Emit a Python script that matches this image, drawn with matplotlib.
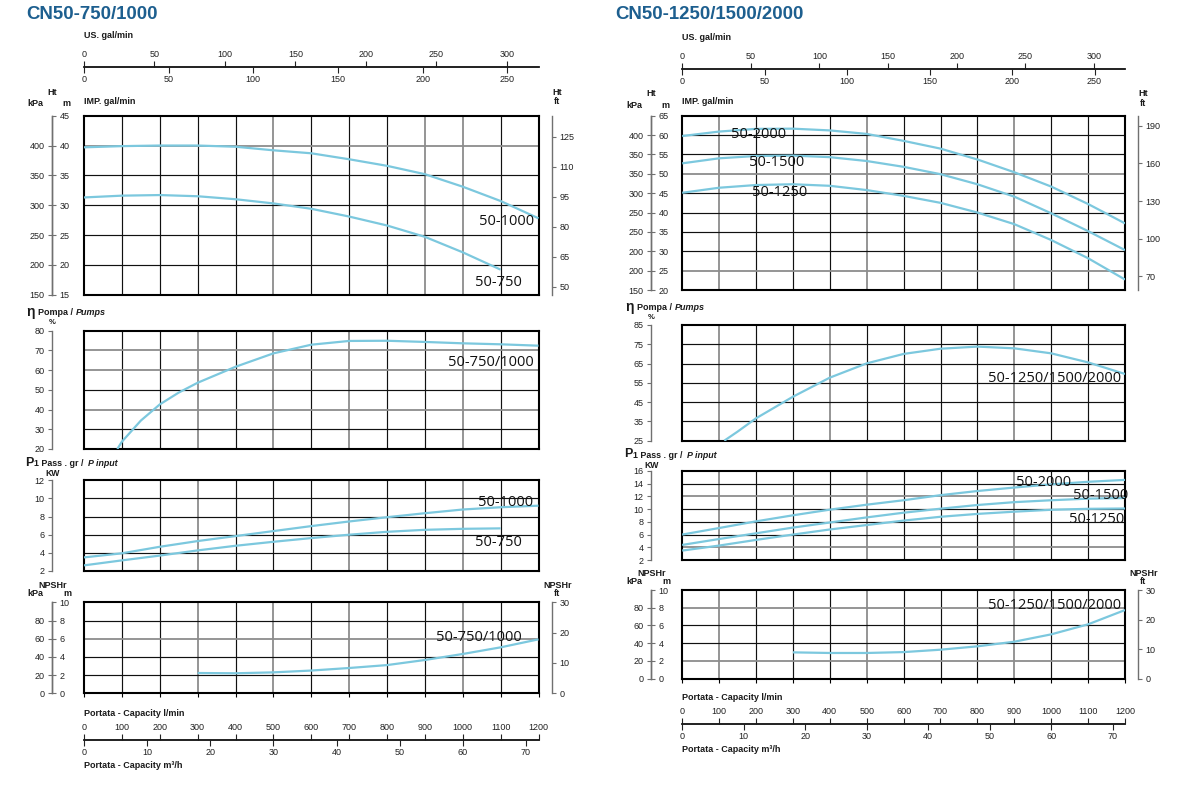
import matplotlib

matplotlib.use("Agg")
import matplotlib.pyplot as plt
import numpy as np

W, H = 1186, 787
CURVE = "#7cc8de"
TITLE = "#1d5f8f"
SPINE = "#707070"

plt.rcParams["font.family"] = ["Liberation Sans", "DejaVu Sans"]

Q = [0, 100, 200, 300, 400, 500, 600, 700, 800, 900, 1000, 1100, 1200]
Q_TO_1100 = Q[:-1]
Q_NPSH = Q[3:]

# CN50-750/1000
HEAD_1000 = [39.7, 39.9, 40.0, 40.0, 39.8, 39.2, 38.7, 37.7, 36.6, 35.2, 33.1, 30.7, 27.8]
HEAD_750 = [31.3, 31.6, 31.7, 31.5, 31.0, 30.3, 29.4, 28.1, 26.6, 24.7, 22.1, 19.2]
Q_EFF_A = [88, 100, 150, 200, 250, 300, 400, 500, 600, 700, 800, 900, 1000, 1100, 1200]
EFF_A = [20.0, 23.7, 34.4, 42.6, 48.6, 53.6, 61.7, 68.5, 72.9, 74.8, 74.9, 74.3, 73.6, 73.1, 72.4]
POWER_1000 = [3.5, 3.95, 4.67, 5.3, 5.85, 6.4, 6.95, 7.46, 7.93, 8.37, 8.78, 9.03, 9.2]
POWER_750 = [2.62, 3.17, 3.7, 4.27, 4.78, 5.22, 5.63, 6.0, 6.32, 6.54, 6.65, 6.7]
NPSH_A = [2.23, 2.2, 2.3, 2.5, 2.78, 3.1, 3.66, 4.32, 5.05, 5.93]

# CN50-1250/1500/2000
HEAD_2000 = [59.75, 60.9, 61.6, 61.65, 61.2, 60.3, 58.5, 56.5, 53.7, 50.4, 46.7, 42.2, 37.2]
HEAD_1500 = [52.7, 54.0, 54.6, 54.7, 54.3, 53.3, 51.8, 49.9, 47.3, 44.1, 39.8, 35.2, 30.3]
HEAD_1250 = [45.1, 46.4, 47.1, 47.3, 46.9, 45.8, 44.3, 42.5, 40.0, 37.0, 32.9, 28.2, 22.7]
Q_EFF_B = [114, 150, 200, 300, 400, 500, 600, 700, 800, 900, 1000, 1100, 1200]
EFF_B = [25.0, 29.7, 36.6, 47.8, 57.7, 65.1, 70.0, 72.7, 73.8, 72.9, 70.3, 65.6, 59.6]
POWER_2000 = [6.0, 7.03, 8.08, 9.03, 9.92, 10.7, 11.4, 12.2, 12.85, 13.4, 13.9, 14.3, 14.6]
POWER_1500 = [4.37, 5.3, 6.2, 7.1, 7.9, 8.7, 9.44, 10.07, 10.65, 11.1, 11.4, 11.65, 11.75]
POWER_1250 = [3.48, 4.27, 5.16, 6.0, 6.8, 7.5, 8.2, 8.8, 9.25, 9.6, 9.9, 10.05, 10.1]
NPSH_B = [2.97, 2.9, 2.9, 3.0, 3.27, 3.65, 4.17, 5.0, 6.13, 7.74]

# scale ticks
LMIN_TICKS = list(range(0, 1300, 100))
M3H_TICKS = [0, 10, 20, 30, 40, 50, 60, 70]
US_TICKS = [0, 50, 100, 150, 200, 250, 300]
IMP_TICKS = [0, 50, 100, 150, 200, 250]
KPA_POS_A = [15, 20, 25, 30, 35, 40]
KPA_LAB_A = ["150", "200", "250", "300", "350", "400"]
KPA_POS_B = [20, 25, 30, 35, 40, 45, 50, 55, 60]
KPA_LAB_B = ["150", "200", "200", "250", "250", "300", "350", "350", "400"]
FT_TICKS_A = [50, 65, 80, 95, 110, 125]
FT_TICKS_B = [70, 100, 130, 160, 190]
NPSH_KPA_POS = [0, 2, 4, 6, 8]
NPSH_KPA_LAB = ["0", "20", "40", "60", "80"]
NPSH_FT_TICKS = [0, 10, 20, 30]

# gal/min as drawn on the sheets (l/min per gallon)
US_GAL = 3.72
IMP_GAL = 4.47
LMIN_PER_M3H = 1200 / 72


def linear(a0, a1, b0, b1):
    k = (b1 - b0) / (a1 - a0)
    return (lambda v: b0 + (np.asarray(v) - a0) * k,
            lambda v: a0 + (np.asarray(v) - b0) / k)


def txt(fig, x, y, s, size=6.5, ha="center", weight="bold", color="#1a1a1a", **kw):
    fig.text(x / W, 1 - y / H, s, ha=ha, va="center", fontsize=size,
             fontweight=weight, color=color, **kw)


def style_sec(sec, color=SPINE):
    sec.tick_params(length=3.2, width=0.8, color=color, labelsize=6.5,
                    labelcolor="#222222", pad=2.2)
    for sp in sec.spines.values():
        sp.set_color(color)
        sp.set_linewidth(1.0)


def side_scale(ax, g, x_px, align, ticks, labels=None, functions=None):
    loc = (x_px - g["x0"]) / (g["x1"] - g["x0"])
    sec = ax.secondary_yaxis(loc, functions=functions)
    sec.set_alignment(align)
    sec.set_ticks(ticks, labels=labels)
    style_sec(sec)
    return sec


def flow_scale(ax, top, bottom, y_px, align, ticks, functions):
    loc = (bottom - y_px) / (bottom - top)
    sec = ax.secondary_xaxis(loc, functions=functions)
    sec.set_alignment(align)
    sec.set_ticks(ticks)
    sec.tick_params(length=4.0, width=0.8, color="#222222", labelsize=6.5,
                    labelcolor="#222222", pad=1.8)
    for sp in sec.spines.values():
        sp.set_color("#1a1a1a")
        sp.set_linewidth(1.1)
    return sec


def panel(fig, g, top, bottom, ylim, ystep, gray_q=(), gray_y=()):
    x0, x1 = g["x0"], g["x1"]
    ax = fig.add_axes([x0 / W, 1 - bottom / H, (x1 - x0) / W, (bottom - top) / H])
    ax.set_xlim(0, 1200)
    ax.set_ylim(*ylim)
    ax.set_xticks([])
    ax.set_yticks([])
    for q in range(100, 1200, 100):
        gray = q in gray_q
        ax.axvline(q, color="#8c8c8c" if gray else "#111111",
                   lw=1.3 if gray else 0.85, zorder=1)
    for y in np.arange(ylim[0] + ystep, ylim[1], ystep):
        gray = any(abs(y - v) < 1e-6 for v in gray_y)
        ax.axhline(y, color="#8c8c8c" if gray else "#111111",
                   lw=1.3 if gray else 0.85, zorder=1)
    for sp in ax.spines.values():
        sp.set_color("black")
        sp.set_linewidth(1.5)
    return ax


def curve(ax, q, v):
    ax.plot(q, v, color=CURVE, lw=1.6, zorder=3, solid_capstyle="butt")


def curve_label(ax, q, v, s):
    ax.text(q, v, s, ha="center", va="center", fontsize=10.5,
            family=["Open Sans", "DejaVu Sans"], color="#111111", zorder=5)


def draw_sheet(fig, g, d):
    lx = g["lsp"] - 52   # offset of the left-hand headers
    rx = g["rsp"] - 552  # offset of the right-hand headers
    x0 = g["x0"]

    txt(fig, g["title_x"], 14.5, g["title"], size=13.4, ha="left", color=TITLE)

    # ---- head ----
    top, bottom = g["head"]
    ax = panel(fig, g, top, bottom, d["head_lim"], 5, *g["gray"]["head"])
    for q, v in d["heads"]:
        curve(ax, q, v)
    for q, v, s in d["head_labels"]:
        curve_label(ax, q, v, s)
    lo, hi = d["head_lim"]
    side_scale(ax, g, g["lsp"], "left", d["kpa_pos"], d["kpa_lab"])
    side_scale(ax, g, g["lsp"], "right", list(range(lo, hi + 1, 5)))
    side_scale(ax, g, g["rsp"], "right", d["ft_ticks"],
               functions=linear(lo, hi, *d["ft_lim"]))
    flow_scale(ax, top, bottom, g["gal_y"], "top", US_TICKS,
               (lambda q: q / US_GAL, lambda v: v * US_GAL))
    flow_scale(ax, top, bottom, g["gal_y"], "bottom", IMP_TICKS,
               (lambda q: q / IMP_GAL, lambda v: v * IMP_GAL))
    txt(fig, x0, g["us_y"], "US. gal/min", ha="left")
    txt(fig, x0, g["imp_y"], "IMP. gal/min", ha="left")
    txt(fig, 52.3 + lx, g["ht_y"], "Ht")
    txt(fig, 35.7 + lx, g["ht_y"] + 11, "kPa")
    txt(fig, 66.5 + lx, g["ht_y"] + 11, "m")
    txt(fig, 557 + rx, g["ht_y"], "Ht")
    txt(fig, 557 + rx, g["ht_y"] + 9, "ft")

    # ---- efficiency ----
    top, bottom = g["eff"]
    lo, hi = d["eff_lim"]
    ax = panel(fig, g, top, bottom, d["eff_lim"], 10, *g["gray"]["eff"])
    curve(ax, d["q_eff"], d["eff"])
    curve_label(ax, *d["eff_label"])
    side_scale(ax, g, g["lsp"], "left", list(range(lo, hi + 1, 10)))
    ey = g["eff_hdr"]
    txt(fig, 30.5 + lx, ey - 0.5, "\u03b7", size=10)
    txt(fig, 38.3 + lx, ey, "Pompa /", ha="left")
    txt(fig, 75.5 + lx, ey, "Pumps", ha="left", style="italic")
    txt(fig, 52 + lx, ey + 10.2, "%", size=5.5)

    # ---- power ----
    top, bottom = g["power"]
    lo, hi = d["power_lim"]
    ax = panel(fig, g, top, bottom, d["power_lim"], 2, *g["gray"]["power"])
    for q, v in d["powers"]:
        curve(ax, q, v)
    for q, v, s in d["power_labels"]:
        curve_label(ax, q, v, s)
    side_scale(ax, g, g["lsp"], "left", list(range(lo, hi + 1, 2)))
    py = g["p_hdr"]
    txt(fig, 25.0 + lx, py, "P", size=9, ha="left")
    txt(fig, 33.8 + lx, py + 1.5, "1 Pass . gr /", ha="left", size=6.4)
    txt(fig, 87.7 + lx, py + 1.5, "P input", ha="left", size=6.4, style="italic")
    txt(fig, 52.3 + lx, py + 11.5, "KW", size=6.2)

    # ---- NPSH ----
    top, bottom = g["npsh"]
    ax = panel(fig, g, top, bottom, (0, 10), 2, *g["gray"]["npsh"])
    ax.set_xticks(LMIN_TICKS)
    ax.tick_params(axis="x", direction="out", length=3, width=0.8, labelbottom=False)
    curve(ax, Q_NPSH, d["npsh"])
    curve_label(ax, *d["npsh_label"])
    side_scale(ax, g, g["lsp"], "left", NPSH_KPA_POS, NPSH_KPA_LAB)
    side_scale(ax, g, g["lsp"], "right", [0, 2, 4, 6, 8, 10])
    side_scale(ax, g, g["rsp"], "right", NPSH_FT_TICKS, functions=linear(0, 10, 0, 30))
    flow_scale(ax, top, bottom, g["cap_y"], "top", LMIN_TICKS, (lambda q: q, lambda q: q))
    flow_scale(ax, top, bottom, g["cap_y"], "bottom", M3H_TICKS,
               (lambda q: q / LMIN_PER_M3H, lambda v: v * LMIN_PER_M3H))
    ny = g["npsh_hdr"]
    txt(fig, 52.4 + lx, ny, "NPSHr")
    txt(fig, 35.6 + lx, ny + 8, "kPa")
    txt(fig, 67.7 + lx, ny + 8, "m")
    txt(fig, 557.6 + rx, ny, "NPSHr")
    txt(fig, 557 + rx, ny + 8, "ft")
    txt(fig, x0, g["cap_y"] - 27, "Portata - Capacity l/min", ha="left")
    txt(fig, x0, g["cap_y"] + 25.4, "Portata - Capacity m\u00b3/h", ha="left")


GEOM_A = dict(
    title="CN50-750/1000", title_x=26, x0=84, x1=538.5, lsp=52, rsp=552,
    us_y=35, gal_y=67.3, imp_y=101, ht_y=92.5,
    head=(115.7, 294.7), eff=(330.7, 449), eff_hdr=312.5,
    power=(480.3, 571), p_hdr=462.5, npsh=(602.3, 693.3), npsh_hdr=585,
    cap_y=740.3,
    gray=dict(head=((500, 900, 1000), (40,)), eff=((300, 500, 700, 1000), (70, 60, 40)),
              power=((300, 700, 1000), ()), npsh=((300, 500, 700, 1000), (6,))),
)
GEOM_B = dict(
    title="CN50-1250/1500/2000", title_x=615, x0=682.2, x1=1125, lsp=651, rsp=1138,
    us_y=37.3, gal_y=69, imp_y=101, ht_y=94,
    head=(115.7, 290), eff=(325, 440.7), eff_hdr=307.3,
    power=(471, 560), p_hdr=454.3, npsh=(590, 678.7), npsh_hdr=573.3,
    cap_y=724.3,
    gray=dict(head=((100, 500, 900), (50, 25)), eff=((100, 400, 900), ()),
              power=((100, 500, 900), (12, 4)), npsh=((100, 500, 900), (8, 2))),
)

DATA_A = dict(
    head_lim=(15, 45), kpa_pos=KPA_POS_A, kpa_lab=KPA_LAB_A,
    ft_ticks=FT_TICKS_A, ft_lim=(46, 135.5),
    heads=[(Q, HEAD_1000), (Q_TO_1100, HEAD_750)],
    head_labels=[(1115, 27.2, "50-1000"), (1093, 17.0, "50-750")],
    eff_lim=(20, 80), q_eff=Q_EFF_A, eff=EFF_A, eff_label=(1075, 64.1, "50-750/1000"),
    power_lim=(2, 12), powers=[(Q, POWER_1000), (Q_TO_1100, POWER_750)],
    power_labels=[(1114, 9.6, "50-1000"), (1093, 5.1, "50-750")],
    npsh=NPSH_A, npsh_label=(1043, 6.1, "50-750/1000"),
)
DATA_B = dict(
    head_lim=(20, 65), kpa_pos=KPA_POS_B, kpa_lab=KPA_LAB_B,
    ft_ticks=FT_TICKS_B, ft_lim=(59.1, 198),
    heads=[(Q, HEAD_2000), (Q, HEAD_1500), (Q, HEAD_1250)],
    head_labels=[(207, 60.2, "50-2000"), (256, 53.0, "50-1500"), (264, 45.1, "50-1250")],
    eff_lim=(25, 85), q_eff=Q_EFF_B, eff=EFF_B, eff_label=(1010, 57.0, "50-1250/1500/2000"),
    power_lim=(2, 16), powers=[(Q, POWER_2000), (Q, POWER_1500), (Q, POWER_1250)],
    power_labels=[(980, 14.2, "50-2000"), (1134, 12.2, "50-1500"), (1124, 8.3, "50-1250")],
    npsh=NPSH_B, npsh_label=(1010, 8.2, "50-1250/1500/2000"),
)

fig = plt.figure(figsize=(W / 100, H / 100), dpi=100)
fig.patch.set_facecolor("white")
draw_sheet(fig, GEOM_A, DATA_A)
draw_sheet(fig, GEOM_B, DATA_B)
fig.savefig("out.png", dpi=100, facecolor="white")
